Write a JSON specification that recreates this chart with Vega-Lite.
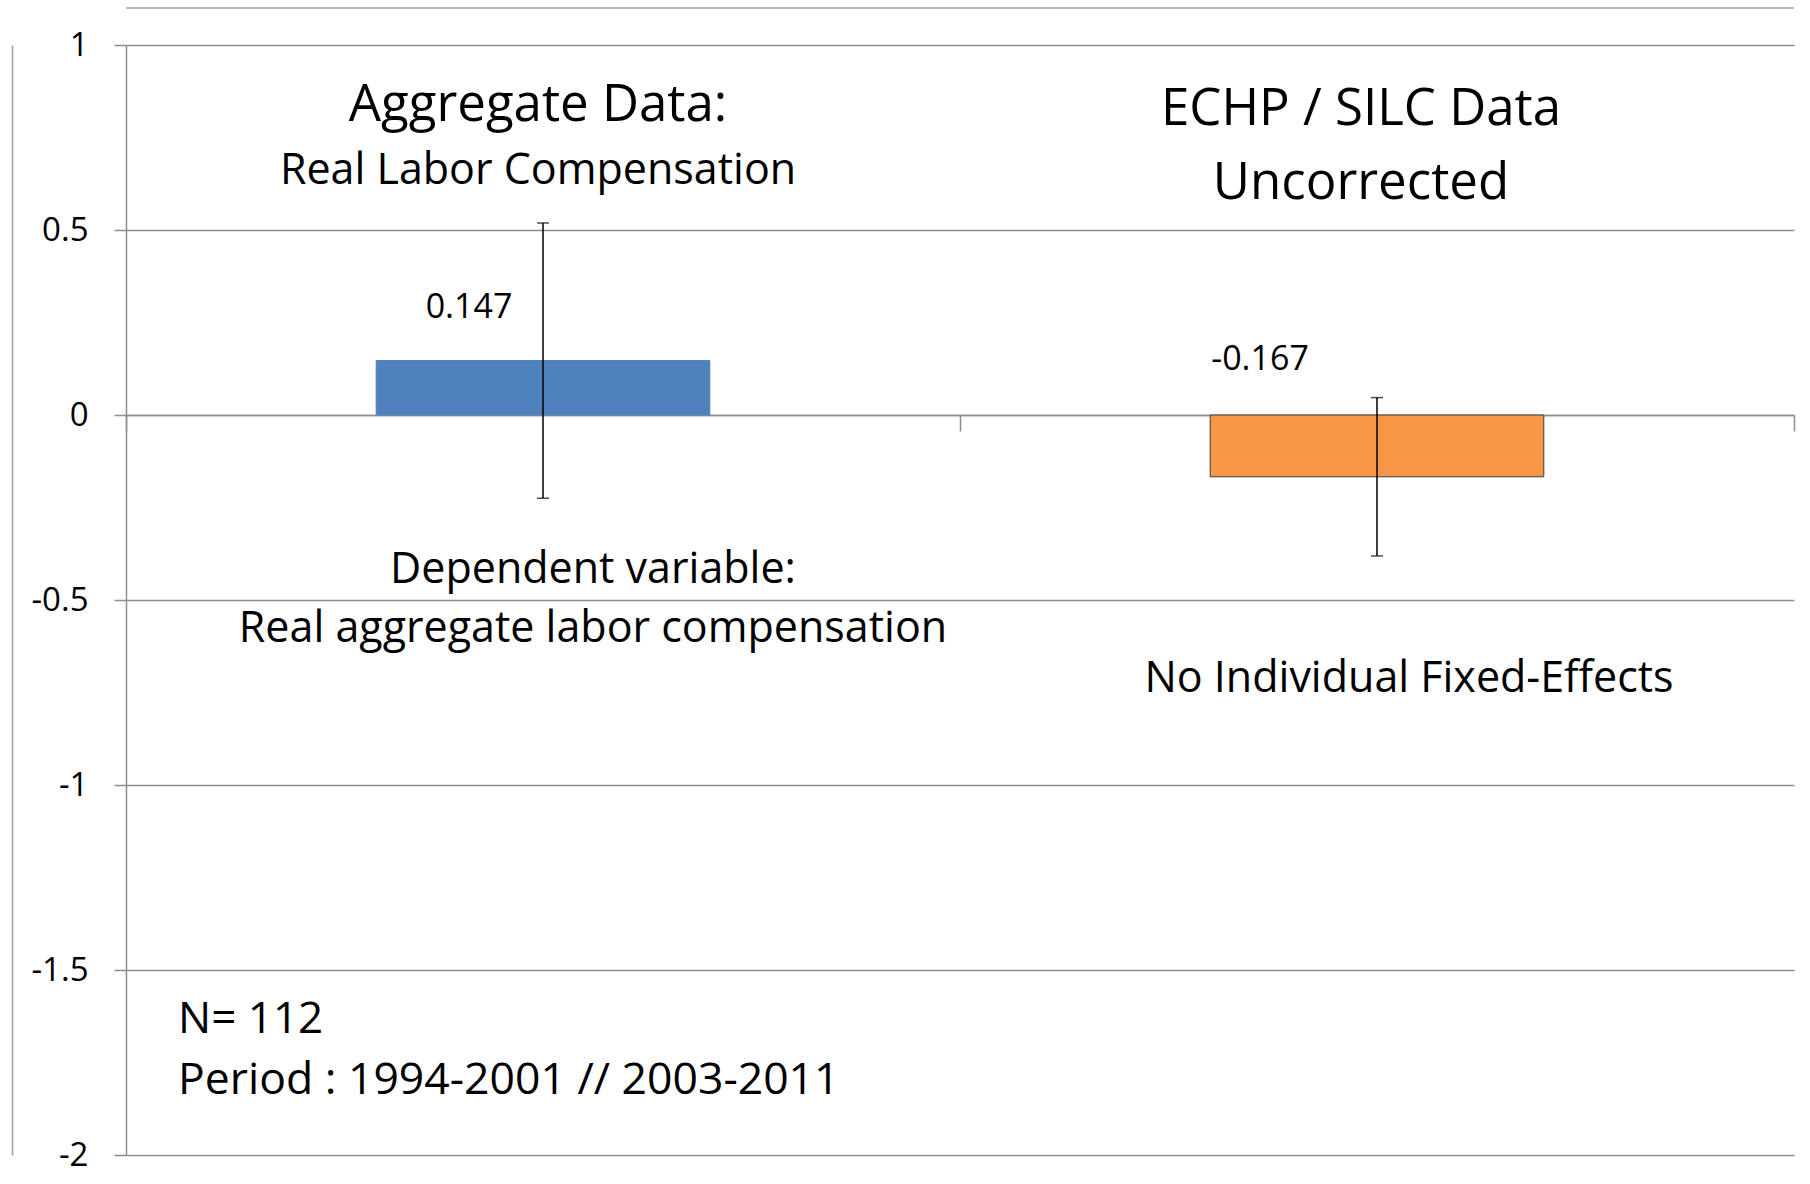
{
  "$schema": "https://vega.github.io/schema/vega-lite/v6.json",
  "width": 1668,
  "height": 1110,
  "autosize": "none",
  "padding": {"left": 126, "top": 45, "right": 16, "bottom": 29},
  "background": "white",
  "config": {
    "view": {"stroke": null},
    "font": "Open Sans",
    "text": {"font": "Open Sans", "color": "black"}
  },
  "datasets": {
    "bars": [
      {"group": "Aggregate Data", "coef": 0.147, "lo": -0.225, "hi": 0.519},
      {"group": "ECHP / SILC Data", "coef": -0.167, "lo": -0.381, "hi": 0.047}
    ],
    "one": [{}]
  },
  "resolve": {"axis": {"y": "independent"}},
  "layer": [
    {
      "data": {"name": "bars"},
      "mark": {"type": "bar", "strokeWidth": 1, "width": {"band": 0.4}},
      "encoding": {
        "x": {
          "field": "group",
          "type": "nominal",
          "sort": null,
          "scale": {"paddingInner": 0, "paddingOuter": 0},
          "axis": {
            "title": null,
            "labels": false,
            "tickBand": "extent",
            "tickSize": 16,
            "tickColor": "#8e8e8e",
            "tickWidth": 1.5,
            "domainColor": "#8e8e8e",
            "domainWidth": 1.5,
            "offset": -740,
            "grid": false
          }
        },
        "y": {
          "field": "coef",
          "type": "quantitative",
          "scale": {"domain": [-2, 1], "nice": false},
          "axis": {
            "title": null,
            "values": [1, 0.5, 0, -0.5, -1, -1.5, -2],
            "labelExpr": "toString(datum.value)",
            "labelFont": "Open Sans",
            "labelFontSize": 33,
            "labelColor": "black",
            "labelPadding": 26,
            "tickSize": 12,
            "tickColor": "#8e8e8e",
            "tickWidth": 1.5,
            "domainColor": "#8e8e8e",
            "domainWidth": 1.5,
            "grid": true,
            "gridColor": "#8e8e8e",
            "gridWidth": 1.5
          }
        },
        "color": {
          "field": "group",
          "type": "nominal",
          "scale": {"domain": ["Aggregate Data", "ECHP / SILC Data"], "range": ["#4F81BD", "#F79646"]},
          "legend": null
        },
        "stroke": {
          "field": "group",
          "type": "nominal",
          "scale": {"domain": ["Aggregate Data", "ECHP / SILC Data"], "range": ["#4F81BD", "#3c3c3c"]},
          "legend": null
        }
      }
    },
    {
      "data": {"name": "one"},
      "mark": {"type": "rule", "color": "#a0a0a0", "strokeWidth": 1.5},
      "encoding": {
        "y": {
          "datum": 1.1,
          "type": "quantitative",
          "axis": {
            "orient": "left",
            "offset": 114,
            "title": null,
            "ticks": false,
            "labels": false,
            "grid": false,
            "domainColor": "#a0a0a0",
            "domainWidth": 1.5
          }
        }
      }
    },
    {
      "data": {"name": "bars"},
      "mark": {"type": "rule", "color": "black", "strokeWidth": 1.5},
      "encoding": {
        "x": {"field": "group", "type": "nominal"},
        "y": {"field": "lo", "type": "quantitative", "axis": null},
        "y2": {"field": "hi"}
      }
    },
    {
      "data": {"name": "bars"},
      "mark": {"type": "tick", "color": "black", "thickness": 1.5, "size": 12, "orient": "horizontal"},
      "encoding": {
        "x": {"field": "group", "type": "nominal"},
        "y": {"field": "lo", "type": "quantitative", "axis": null}
      }
    },
    {
      "data": {"name": "bars"},
      "mark": {"type": "tick", "color": "black", "thickness": 1.5, "size": 12, "orient": "horizontal"},
      "encoding": {
        "x": {"field": "group", "type": "nominal"},
        "y": {"field": "hi", "type": "quantitative", "axis": null}
      }
    },
    {
      "data": {"name": "one"},
      "mark": {"type": "text", "text": "Aggregate Data:", "fontSize": 51, "baseline": "alphabetic", "align": "center", "dx": -5},
      "encoding": {
        "x": {"datum": "Aggregate Data", "type": "nominal"},
        "y": {"datum": 0.795, "type": "quantitative", "axis": null}
      }
    },
    {
      "data": {"name": "one"},
      "mark": {"type": "text", "text": "Real Labor Compensation", "fontSize": 43, "baseline": "alphabetic", "align": "center", "dx": -5},
      "encoding": {
        "x": {"datum": "Aggregate Data", "type": "nominal"},
        "y": {"datum": 0.625, "type": "quantitative", "axis": null}
      }
    },
    {
      "data": {"name": "one"},
      "mark": {"type": "text", "text": "ECHP / SILC Data", "fontSize": 51, "baseline": "alphabetic", "align": "center", "dx": -16},
      "encoding": {
        "x": {"datum": "ECHP / SILC Data", "type": "nominal"},
        "y": {"datum": 0.784, "type": "quantitative", "axis": null}
      }
    },
    {
      "data": {"name": "one"},
      "mark": {"type": "text", "text": "Uncorrected", "fontSize": 51, "baseline": "alphabetic", "align": "center", "dx": -16},
      "encoding": {
        "x": {"datum": "ECHP / SILC Data", "type": "nominal"},
        "y": {"datum": 0.585, "type": "quantitative", "axis": null}
      }
    },
    {
      "data": {"name": "one"},
      "mark": {"type": "text", "text": "0.147", "fontSize": 34, "baseline": "alphabetic", "align": "center", "dx": -74},
      "encoding": {
        "x": {"datum": "Aggregate Data", "type": "nominal"},
        "y": {"datum": 0.262, "type": "quantitative", "axis": null}
      }
    },
    {
      "data": {"name": "one"},
      "mark": {"type": "text", "text": "-0.167", "fontSize": 34, "baseline": "alphabetic", "align": "center", "dx": -117},
      "encoding": {
        "x": {"datum": "ECHP / SILC Data", "type": "nominal"},
        "y": {"datum": 0.122, "type": "quantitative", "axis": null}
      }
    },
    {
      "data": {"name": "one"},
      "mark": {"type": "text", "text": "Dependent variable:", "fontSize": 43, "baseline": "alphabetic", "align": "center", "dx": 50},
      "encoding": {
        "x": {"datum": "Aggregate Data", "type": "nominal"},
        "y": {"datum": -0.455, "type": "quantitative", "axis": null}
      }
    },
    {
      "data": {"name": "one"},
      "mark": {"type": "text", "text": "Real aggregate labor compensation", "fontSize": 43, "baseline": "alphabetic", "align": "center", "dx": 50},
      "encoding": {
        "x": {"datum": "Aggregate Data", "type": "nominal"},
        "y": {"datum": -0.613, "type": "quantitative", "axis": null}
      }
    },
    {
      "data": {"name": "one"},
      "mark": {"type": "text", "text": "No Individual Fixed-Effects", "fontSize": 43, "baseline": "alphabetic", "align": "center", "dx": 32},
      "encoding": {
        "x": {"datum": "ECHP / SILC Data", "type": "nominal"},
        "y": {"datum": -0.749, "type": "quantitative", "axis": null}
      }
    },
    {
      "data": {"name": "one"},
      "mark": {"type": "text", "text": "N= 112", "fontSize": 44, "baseline": "alphabetic", "align": "left", "dx": -365},
      "encoding": {
        "x": {"datum": "Aggregate Data", "type": "nominal"},
        "y": {"datum": -1.67, "type": "quantitative", "axis": null}
      }
    },
    {
      "data": {"name": "one"},
      "mark": {"type": "text", "text": "Period : 1994-2001 // 2003-2011", "fontSize": 44.5, "baseline": "alphabetic", "align": "left", "dx": -365},
      "encoding": {
        "x": {"datum": "Aggregate Data", "type": "nominal"},
        "y": {"datum": -1.834, "type": "quantitative", "axis": null}
      }
    }
  ]
}
